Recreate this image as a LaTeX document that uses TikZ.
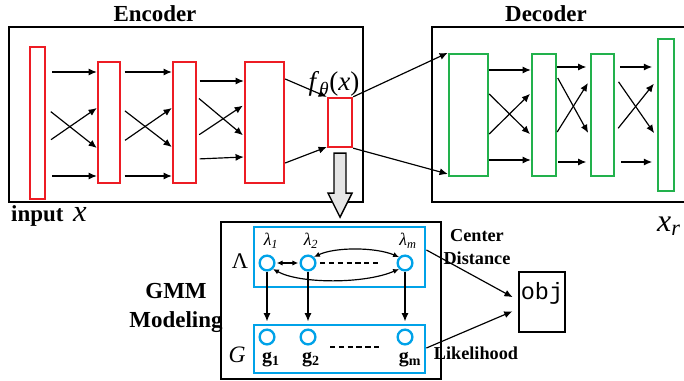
\documentclass[tikz,border=0pt]{standalone}
\usepackage{fontspec}
\setmainfont{Liberation Serif}
\setmonofont{Liberation Mono}
\usetikzlibrary{arrows.meta,fit}
\definecolor{encred}{RGB}{237,28,36}
\definecolor{decgreen}{RGB}{34,177,76}
\definecolor{gmmblue}{RGB}{0,162,232}
\begin{document}
\begin{tikzpicture}[x=0.85pt, y=-0.85pt, node distance=34.85pt,
  box/.style={draw, line width=1.2pt, inner sep=0pt},
  enclayer/.style={draw=encred, line width=2pt, inner sep=0pt, fit={#1}},
  declayer/.style={draw=decgreen, line width=2pt, inner sep=0pt, fit={#1}},
  bluebox/.style={draw=gmmblue, line width=2.4pt, inner sep=0pt, fit={#1}},
  comp/.style={circle, draw=gmmblue, line width=2pt, minimum size=12.5pt, inner sep=0pt},
  arr/.style={-{Latex[length=7pt,width=6pt]}, line width=1pt},
  darr/.style={{Latex[length=5pt,width=4.5pt]}-{Latex[length=5pt,width=4.5pt]}, line width=1pt},
  dashline/.style={line width=1.5pt, dash pattern=on 4.5pt off 3pt},
  title/.style={font=\bfseries\fontsize{19.5}{24.6}\selectfont, inner sep=0pt},
  sub/.style={font=\bfseries\fontsize{15.5}{19.5}\selectfont, inner sep=0pt},
  sym/.style={font=\fontsize{19}{22}\selectfont, inner sep=0pt},
  lab/.style={font=\fontsize{15}{17}\selectfont\itshape, inner sep=0pt},
  glab/.style={font=\fontsize{17}{19}\selectfont\bfseries, inner sep=0pt},
  hollow/.style={draw, line width=1.2pt, fill=gray!20}]
  \useasboundingbox (0,0) rectangle (684,381);

  \node (enc) [box, fit={(9,27)(363,202)}] {};
  \node (dec) [box, fit={(432,27)(700,202)}] {};
  \node (tenc) [title] at (155,14) {Encoder};
  \node (tdec) [title] at (546,14) {Decoder};
  \node (tin) [title, anchor=west] at (11,216) {input\, \textnormal{\fontsize{26}{28}\selectfont\itshape x}};

  \node (e1) [enclayer={(30,47)(45,199)}] {};
  \node (e2) [enclayer={(98,62)(120,183)}] {};
  \node (e3) [enclayer={(173,62)(196,183)}] {};
  \node (e4) [enclayer={(245,62)(284,183)}] {};
  \node (e5) [enclayer={(328,98)(352,147)}] {};
  \node (tf) [font=\fontsize{23}{26}\selectfont, inner sep=0pt] at (334,84)
    {\textit{f}\textsubscript{\textit{θ}}(\textit{x})};

  \node (d1) [declayer={(449,54)(488,176)}] {};
  \node (d2) [declayer={(532,54)(556,176)}] {};
  \node (d3) [declayer={(591,54)(614,176)}] {};
  \node (d4) [declayer={(658,39)(674,191)}] {};
  \node (txr) [font=\fontsize{27}{30}\selectfont\itshape, inner sep=0pt, anchor=west] at (657,226)
    {x\textsubscript{r}};

  \foreach \a/\b/\ya/\yb/\s/\t in {e1/e2/72/72/5/0, e1/e2/108/148/5/0, e1/e2/143/108/5/0, e1/e2/176/176/5/0,
      e2/e3/72/72/3/0, e2/e3/108/147/4/0, e2/e3/143/108/4/0, e2/e3/176/176/3/0,
      e3/e4/81/81/2/0, e3/e4/97/136/2/1, e3/e4/136/105/2/1, e3/e4/159/157/2/0,
      d1/d2/70/70/0/0, d1/d2/94/135/0/1, d1/d2/134/93/0/1, d1/d2/160/160/0/0,
      d2/d3/67/67/0/3, d2/d3/77/136/1/3, d2/d3/132/80/0/3, d2/d3/162/162/1/3,
      d3/d4/67/67/4/4, d3/d4/77/137/5/4, d3/d4/132/80/4/4, d3/d4/162/162/5/4}
    \draw[arr, shorten <=\s pt, shorten >=\t pt] (\a.east |- 0,\ya) -- (\b.west |- 0,\yb);
  \draw[arr] (e4.east |- 0,79) -- (e5.north west);
  \draw[arr] (e4.east |- 0,163) -- (e5.west |- 0,147);
  \draw[arr] (e5.north east) -- (d1.north west);
  \draw[arr] (e5.south east) -- (d1.west |- 0,174);

  \draw[hollow] (e5.south) ++(-6,5) -- ++(12,0) -- ++(0,40) -- ++(6,0) -- ++(-12,24)
    -- ++(-12,-24) -- ++(6,0) -- cycle;

  \node (gmm) [box, fit={(221,222)(441,379)}] {};
  \node (lam) [bluebox={(254,227)(425,287)}] {};
  \node (gb) [bluebox={(254,325)(425,373)}] {};
  \node (tgmm) [title, align=center] at (176,308) {GMM\\Modeling};
  \node (tlam) [sym] at (240,261) {Λ};
  \node (tG) [sym, font=\fontsize{20}{22}\selectfont\itshape] at (237,355) {G};

  \node (l1) [comp] at (267,263) {};
  \node (l2) [comp, right of=l1] {};
  \node (lm) [comp] at (405,263) {};
  \node (g1) [comp, below of=l1, node distance=62.9pt] {};
  \node (g2) [comp, below of=l2, node distance=62.9pt] {};
  \node (gm) [comp, below of=lm, node distance=62.9pt] {};
  \node (tl1) [lab] at (271,241) {λ\textsubscript{1}};
  \node (tl2) [lab] at (311,241) {λ\textsubscript{2}};
  \node (tlm) [lab] at (408,241) {λ\textsubscript{m}};
  \node (tg1) [glab] at (271,360) {g\textsubscript{1}};
  \node (tg2) [glab] at (311,360) {g\textsubscript{2}};
  \node (tgm) [glab] at (410,360) {g\textsubscript{m}};

  \draw[darr, shorten <=1pt, shorten >=1pt] (l1) -- (l2);
  \draw[dashline, shorten <=3pt, shorten >=15pt] (l2) -- (lm);
  \draw[darr] (l2.north east) .. controls (335,247) and (375,247) .. (lm.north west);
  \draw[darr] (l1.south east) .. controls (300,284) and (365,284) .. (lm.south west);
  \foreach \u/\v in {l1/g1, l2/g2, lm/gm}
    \draw[arr, shorten >=6pt] (\u) -- (\v);
  \draw[dashline] ([shift={(22,10)}]g2.center) -- ([shift={(-25,10)}]gm.center);

  \node (obj) [draw, line width=2pt, inner sep=0pt, fit={(519,272)(565,332)},
    font=\ttfamily\fontsize{20}{22}\selectfont] {obj};
  \node (tcd) [sub, align=center] at (477,247) {Center\\Distance};
  \node (tlik) [sub] at (476,353) {Likelihood};
  \draw[arr, shorten >=5pt] (lam.east |- 0,250) -- (obj.west |- 0,300);
  \draw[arr, shorten >=5pt] (gb.east |- 0,348) -- (obj.west |- 0,309);
\end{tikzpicture}
\end{document}
